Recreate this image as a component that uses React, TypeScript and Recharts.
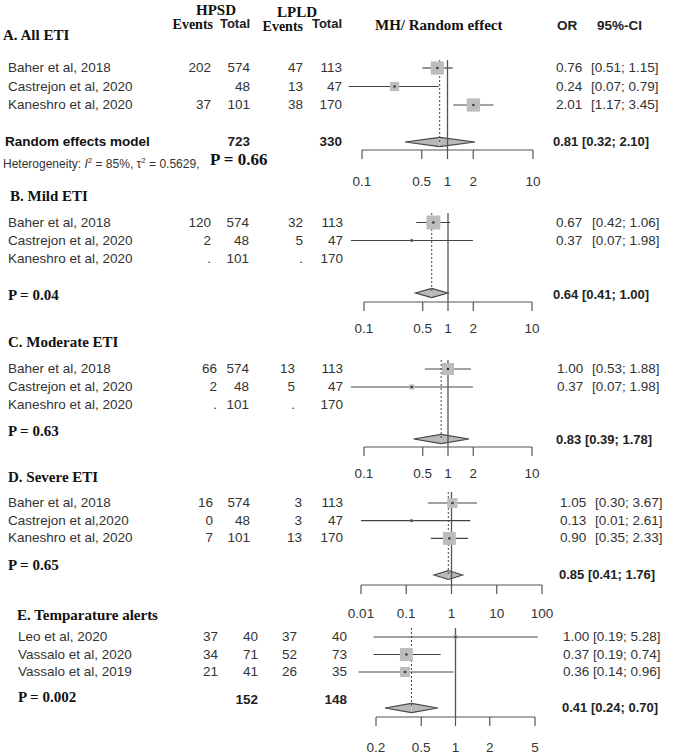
import React from 'react'
import { ComposedChart, Scatter, XAxis, YAxis, ReferenceLine, ReferenceArea } from 'recharts'

const SANS = '"Liberation Sans", Arial, sans-serif'
const SERIF = '"Liberation Serif", "Times New Roman", serif'

// A. All ETI
const studiesA = ['Baher et al, 2018', 'Castrejon et al, 2020', 'Kaneshro et al, 2020']
const hpsdEventsA = ['202', '', '37']
const hpsdTotalA = ['574', '48', '101']
const lpldEventsA = ['47', '13', '38']
const lpldTotalA = ['113', '47', '170']
const orA = [0.76, 0.24, 2.01]
const loA = [0.51, 0.07, 1.17]
const hiA = [1.15, 0.79, 3.45]
const weightA = [40, 19, 40]
const pooledA = [0.81, 0.32, 2.1]

// B. Mild ETI
const studiesB = ['Baher et al, 2018', 'Castrejon et al, 2020', 'Kaneshro et al, 2020']
const hpsdEventsB = ['120', '2', '.']
const hpsdTotalB = ['574', '48', '101']
const lpldEventsB = ['32', '5', '.']
const lpldTotalB = ['113', '47', '170']
const orB = [0.67, 0.37, null]
const loB = [0.42, 0.07, null]
const hiB = [1.06, 1.98, null]
const weightB = [44, 2, 0]
const pooledB = [0.64, 0.41, 1.0]

// C. Moderate ETI
const studiesC = ['Baher et al, 2018', 'Castrejon et al, 2020', 'Kaneshro et al, 2020']
const hpsdEventsC = ['66', '2', '.']
const hpsdTotalC = ['574', '48', '101']
const lpldEventsC = ['13', '5', '.']
const lpldTotalC = ['113', '47', '170']
const orC = [1.0, 0.37, null]
const loC = [0.53, 0.07, null]
const hiC = [1.88, 1.98, null]
const weightC = [33, 6, 0]
const pooledC = [0.83, 0.39, 1.78]

// D. Severe ETI
const studiesD = ['Baher et al, 2018', 'Castrejon et al,2020', 'Kaneshro et al, 2020']
const hpsdEventsD = ['16', '0', '7']
const hpsdTotalD = ['574', '48', '101']
const lpldEventsD = ['3', '3', '13']
const lpldTotalD = ['113', '47', '170']
const orD = [1.05, 0.13, 0.9]
const loD = [0.3, 0.01, 0.35]
const hiD = [3.67, 2.61, 2.33]
const weightD = [23, 2, 38]
const pooledD = [0.85, 0.41, 1.76]

// E. Temparature alerts
const studiesE = ['Leo et al, 2020', 'Vassalo et al, 2020', 'Vassalo et al, 2019']
const hpsdEventsE = ['37', '34', '21']
const hpsdTotalE = ['40', '71', '41']
const lpldEventsE = ['37', '52', '26']
const lpldTotalE = ['40', '73', '35']
const orE = [1.0, 0.37, 0.36]
const loE = [0.19, 0.19, 0.14]
const hiE = [5.28, 0.74, 0.96]
const weightE = [4, 38, 23]
const pooledE = [0.41, 0.24, 0.7]

const ticksMid = [0.1, 0.5, 1, 2, 10]
const ticksWide = [0.01, 0.1, 1, 10, 100]
const ticksNarrow = [0.2, 0.5, 1, 2, 5]

const panels = [
  {
    title: 'A. All ETI', studies: studiesA, ev1: hpsdEventsA, tot1: hpsdTotalA, ev2: lpldEventsA, tot2: lpldTotalA,
    or: orA, lo: loA, hi: hiA, w: weightA, pooled: pooledA, ticks: ticksMid, domain: [0.1, 10],
    totals: ['723', '330'], p: '',
    L: { titleX: 3, titleY: 35, nameX: 8, y1: 68, pitch: 18.5, sumY: 142, top: 60, axisY: 150, x0: 362, x1: 533,
      tickMargin: 17, cols: [211, 250, 303, 342], orX: 556, ciX: 591, sumOrX: 553, sumTextY: 142,
      pX: 8, pY: 0, totY: 142 },
  },
  {
    title: 'B. Mild ETI', studies: studiesB, ev1: hpsdEventsB, tot1: hpsdTotalB, ev2: lpldEventsB, tot2: lpldTotalB,
    or: orB, lo: loB, hi: hiB, w: weightB, pooled: pooledB, ticks: ticksMid, domain: [0.1, 10],
    totals: null, p: 'P = 0.04',
    L: { titleX: 10, titleY: 196, nameX: 8, y1: 222.5, pitch: 18, sumY: 293, top: 213, axisY: 302, x0: 364, x1: 532,
      tickMargin: 12, cols: [211, 249, 303, 343], orX: 556, ciX: 592, sumOrX: 553, sumTextY: 295,
      pX: 8, pY: 295, totY: 0 },
  },
  {
    title: 'C. Moderate ETI', studies: studiesC, ev1: hpsdEventsC, tot1: hpsdTotalC, ev2: lpldEventsC, tot2: lpldTotalC,
    or: orC, lo: loC, hi: hiC, w: weightC, pooled: pooledC, ticks: ticksMid, domain: [0.1, 10],
    totals: null, p: 'P = 0.63',
    L: { titleX: 8, titleY: 342, nameX: 8, y1: 369, pitch: 18, sumY: 439, top: 360, axisY: 447, x0: 364, x1: 532,
      tickMargin: 12, cols: [217, 249, 295, 343], orX: 557, ciX: 592, sumOrX: 556, sumTextY: 440,
      pX: 8, pY: 431, totY: 0 },
  },
  {
    title: 'D. Severe ETI', studies: studiesD, ev1: hpsdEventsD, tot1: hpsdTotalD, ev2: lpldEventsD, tot2: lpldTotalD,
    or: orD, lo: loD, hi: hiD, w: weightD, pooled: pooledD, ticks: ticksWide, domain: [0.01, 100],
    totals: null, p: 'P = 0.65',
    L: { titleX: 8, titleY: 477, nameX: 8, y1: 503, pitch: 17.7, sumY: 575, top: 492, axisY: 585, x0: 361, x1: 542,
      tickMargin: 14, cols: [213, 250, 302, 343], orX: 560, ciX: 595, sumOrX: 559, sumTextY: 575,
      pX: 8, pY: 565, totY: 0 },
  },
  {
    title: 'E. Temparature alerts', studies: studiesE, ev1: hpsdEventsE, tot1: hpsdTotalE, ev2: lpldEventsE, tot2: lpldTotalE,
    or: orE, lo: loE, hi: hiE, w: weightE, pooled: pooledE, ticks: ticksNarrow, domain: [0.2, 5],
    totals: ['152', '148'], p: 'P = 0.002',
    L: { titleX: 17, titleY: 615, nameX: 18, y1: 637, pitch: 17.5, sumY: 708, top: 628, axisY: 717, x0: 376, x1: 535,
      tickMargin: 16, cols: [218, 258, 297, 347], orX: 563, ciX: 593, sumOrX: 562, sumTextY: 708,
      pX: 18, pY: 697, totY: 700 },
  },
]

type TxtProps = {
  x: number
  y: number
  children: React.ReactNode
  anchor?: 'start' | 'end' | 'middle'
  font?: string
  size?: number
  bold?: boolean
  color?: string
}

function Txt({ x, y, children, anchor = 'start', font = SANS, size = 13.5, bold = false, color = '#333' }: TxtProps) {
  const style: React.CSSProperties = {
    position: 'absolute', top: y - 10, height: 20, lineHeight: '20px', whiteSpace: 'nowrap',
    fontFamily: font, fontSize: size, fontWeight: bold ? 700 : 400, color,
  }
  if (anchor === 'end') {
    style.right = 690 - x
  } else if (anchor === 'middle') {
    style.left = x
    style.transform = 'translateX(-50%)'
  } else {
    style.left = x
  }
  return <div style={style}>{children}</div>
}

function Square(props: any) {
  const { cx, cy, payload } = props
  const s = Math.max(2.6, 2.1 * Math.sqrt(payload.w))
  return (
    <g>
      <rect x={cx - s / 2} y={cy - s / 2} width={s} height={s} fill="#bdbdbd" />
      <rect x={cx - 1.1} y={cy - 1.1} width={2.2} height={2.2} fill="#333" />
    </g>
  )
}

function DiamondLeft(props: any) {
  const { x, y, width, height } = props
  const m = y + height / 2
  return (
    <g>
      <polygon points={`${x},${m} ${x + width},${y} ${x + width},${y + height}`} fill="#b9b9b9" />
      <polyline points={`${x + width},${y} ${x},${m} ${x + width},${y + height}`} fill="none" stroke="#444" strokeWidth={1.1} />
    </g>
  )
}

function DiamondRight(props: any) {
  const { x, y, width, height } = props
  const m = y + height / 2
  return (
    <g>
      <polygon points={`${x},${y} ${x + width},${m} ${x},${y + height}`} fill="#b9b9b9" />
      <polyline points={`${x},${y} ${x + width},${m} ${x},${y + height}`} fill="none" stroke="#444" strokeWidth={1.1} />
    </g>
  )
}

function ForestPanel({ panel }: { panel: (typeof panels)[number] }) {
  const L = panel.L
  const pad = 40
  const axisH = 46
  const width = L.x1 - L.x0 + pad * 2
  const height = L.axisY - L.top + axisH
  const rTop = 1 - (L.y1 - L.top) / L.pitch
  const rAxis = 1 + (L.axisY - L.y1) / L.pitch
  const rSum = 1 + (L.sumY - L.y1) / L.pitch
  const dh = 4.6 / L.pitch
  const [pOr, pLo, pHi] = panel.pooled
  const points = panel.or
    .map((v, i) => ({ x: v, y: i + 1, w: panel.w[i], lo: panel.lo[i], hi: panel.hi[i] }))
    .filter((d) => d.x != null)

  return (
    <div style={{ position: 'absolute', left: L.x0 - pad, top: L.top }}>
      <ComposedChart width={width} height={height} margin={{ top: 0, right: pad, bottom: 0, left: pad }}>
        <XAxis
          type="number"
          dataKey="x"
          scale="log"
          domain={panel.domain}
          ticks={panel.ticks}
          interval={0}
          allowDataOverflow
          height={axisH}
          tickSize={9}
          tickMargin={L.tickMargin}
          tickFormatter={(v: number) => String(v)}
          tick={{ fontSize: 13.5, fill: '#333', fontFamily: SANS }}
          axisLine={{ stroke: '#555', strokeWidth: 1.2 }}
          tickLine={{ stroke: '#555', strokeWidth: 1.2 }}
        />
        <YAxis type="number" dataKey="y" domain={[rTop, rAxis]} reversed hide allowDataOverflow />
        <ReferenceLine x={1} stroke="#555" strokeWidth={1.3} />
        <ReferenceLine
          segment={[{ x: pOr, y: rTop }, { x: pOr, y: rSum }]}
          stroke="#444"
          strokeDasharray="2 2"
          ifOverflow="visible"
        />
        <ReferenceArea x1={pLo} x2={pOr} y1={rSum - dh} y2={rSum + dh} shape={DiamondLeft} ifOverflow="visible" />
        <ReferenceArea x1={pOr} x2={pHi} y1={rSum - dh} y2={rSum + dh} shape={DiamondRight} ifOverflow="visible" />
        <Scatter data={points} dataKey="y" shape={(p: any) => <Square {...p} />} isAnimationActive={false} />
        {points.map((d) => (
          <ReferenceLine
            key={d.y}
            segment={[{ x: d.lo, y: d.y }, { x: d.hi, y: d.y }]}
            stroke="#444"
            strokeWidth={1.2}
            ifOverflow="visible"
          />
        ))}
      </ComposedChart>
    </div>
  )
}

function PanelText({ panel }: { panel: (typeof panels)[number] }) {
  const L = panel.L
  const rowY = (i: number) => L.y1 + i * L.pitch
  const [pOr, pLo, pHi] = panel.pooled
  return (
    <>
      <Txt x={L.titleX} y={L.titleY} font={SERIF} size={15} bold color="#111">{panel.title}</Txt>
      {panel.studies.map((s, i) => (
        <React.Fragment key={s + i}>
          <Txt x={L.nameX} y={rowY(i)}>{s}</Txt>
          <Txt x={L.cols[0]} y={rowY(i)} anchor="end">{panel.ev1[i]}</Txt>
          <Txt x={L.cols[1]} y={rowY(i)} anchor="end">{panel.tot1[i]}</Txt>
          <Txt x={L.cols[2]} y={rowY(i)} anchor="end">{panel.ev2[i]}</Txt>
          <Txt x={L.cols[3]} y={rowY(i)} anchor="end">{panel.tot2[i]}</Txt>
          {panel.or[i] != null ? (
            <>
              <Txt x={L.orX} y={rowY(i)}>{(panel.or[i] as number).toFixed(2)}</Txt>
              <Txt x={L.ciX} y={rowY(i)}>
                [{(panel.lo[i] as number).toFixed(2)}; {(panel.hi[i] as number).toFixed(2)}]
              </Txt>
            </>
          ) : null}
        </React.Fragment>
      ))}
      <Txt x={L.sumOrX} y={L.sumTextY} size={13} bold color="#222">
        {`${pOr.toFixed(2)} [${pLo.toFixed(2)}; ${pHi.toFixed(2)}]`}
      </Txt>
      {panel.totals ? (
        <>
          <Txt x={L.cols[1]} y={L.totY} anchor="end" bold color="#222">{panel.totals[0]}</Txt>
          <Txt x={L.cols[3]} y={L.totY} anchor="end" bold color="#222">{panel.totals[1]}</Txt>
        </>
      ) : null}
      {panel.p ? (
        <Txt x={L.pX} y={L.pY} font={SERIF} size={15} bold color="#111">{panel.p}</Txt>
      ) : null}
    </>
  )
}

export default function App() {
  return (
    <div style={{ position: 'absolute', left: 0, top: 0, width: 690, height: 756, background: '#fff', overflow: 'hidden' }}>
      {/* column headers */}
      <Txt x={216} y={10} anchor="middle" font={SERIF} size={15} bold color="#111">HPSD</Txt>
      <Txt x={297} y={12} anchor="middle" font={SERIF} size={15} bold color="#111">LPLD</Txt>
      <Txt x={213} y={25} anchor="end" font={SERIF} size={14} bold color="#111">Events</Txt>
      <Txt x={250} y={24} anchor="end" size={13} bold color="#222">Total</Txt>
      <Txt x={303} y={27} anchor="end" font={SERIF} size={14} bold color="#111">Events</Txt>
      <Txt x={342} y={24} anchor="end" size={13} bold color="#222">Total</Txt>
      <Txt x={375} y={25} font={SERIF} size={15} bold color="#111">MH/ Random effect</Txt>
      <Txt x={557} y={26} size={13.5} bold color="#222">OR</Txt>
      <Txt x={597} y={26} size={13.5} bold color="#222">95%-CI</Txt>

      {panels.map((p) => (
        <React.Fragment key={p.title}>
          <PanelText panel={p} />
          <ForestPanel panel={p} />
        </React.Fragment>
      ))}

      <Txt x={5} y={142} bold color="#111">Random effects model</Txt>
      <Txt x={3} y={161} size={12}>
        Heterogeneity: <i>I</i>
        <sup style={{ fontSize: 8 }}>2</sup> = 85%, τ<sup style={{ fontSize: 8 }}>2</sup> = 0.5629,
      </Txt>
      <Txt x={210} y={160} font={SERIF} size={17} bold color="#111">P = 0.66</Txt>
    </div>
  )
}
